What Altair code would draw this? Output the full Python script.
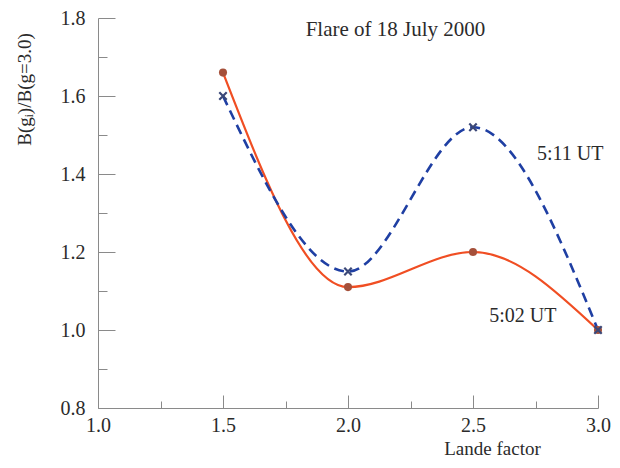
import altair as alt
import pandas as pd

# Data
lande = [1.5, 2.0, 2.5, 3.0]
ratio_502 = [1.66, 1.11, 1.20, 1.00]
ratio_511 = [1.60, 1.15, 1.52, 1.00]

x_major = [1.0, 1.5, 2.0, 2.5, 3.0]
x_minor = [1.25, 1.75, 2.25, 2.75]
y_major = [0.8, 1.0, 1.2, 1.4, 1.6, 1.8]
y_minor = [0.9, 1.1, 1.3, 1.5, 1.7]

ann_text = ["Flare of 18 July 2000", "5:11 UT", "5:02 UT"]
ann_x = [2.19, 2.889, 2.699]
ann_y = [1.768, 1.451, 1.036]
ann_size = [21, 20, 20]

FONT = "Liberation Serif"
AX = "#8a8a8a"
TXT = "#2b2b2b"
W, H = 500, 390

df = pd.DataFrame({
    "x": lande * 2,
    "y": ratio_502 + ratio_511,
    "series": ["5:02 UT"] * 4 + ["5:11 UT"] * 4,
})
ann = pd.DataFrame({"x": ann_x, "y": ann_y, "label": ann_text, "size": ann_size})

xs = alt.Scale(domain=[1.0, 3.0], nice=False, zero=False)
ys = alt.Scale(domain=[0.8, 1.8], nice=False, zero=False)

x_main = alt.X("x:Q", scale=xs, axis=alt.Axis(
    values=x_major, format=".1f", ticks=False, domain=True, domainColor=AX,
    grid=False, labelFont=FONT, labelFontSize=20, labelColor=TXT, labelPadding=7,
    labelFlush=False,
    title="Lande factor", titleFont=FONT, titleFontSize=19, titleFontWeight="normal",
    titleColor=TXT, titleX=394, titleY=40, titleAlign="center", titleBaseline="middle"))
y_main = alt.Y("y:Q", scale=ys, axis=alt.Axis(
    values=y_major, format=".1f", ticks=False, domain=True, domainColor=AX,
    grid=False, labelFont=FONT, labelFontSize=20, labelColor=TXT, labelPadding=13,
    labelFlush=False,
    title="B(gᵢ)/B(g=3.0)", titleFont=FONT, titleFontSize=19, titleFontWeight="normal",
    titleColor=TXT, titleX=-74, titleY=71, titleAngle=270, titleAlign="center",
    titleBaseline="middle"))

base = alt.Chart(df).encode(x=x_main, y=y_main)

red_line = base.transform_filter(alt.datum.series == "5:02 UT").mark_line(
    interpolate="monotone", color="#f04e23", strokeWidth=2.2)
blue_line = base.transform_filter(alt.datum.series == "5:11 UT").mark_line(
    interpolate="monotone", color="#1f3fa3", strokeWidth=2.6, strokeDash=[10, 6])
red_pts = base.transform_filter(alt.datum.series == "5:02 UT").mark_point(
    shape="circle", filled=True, color="#a5503a", size=65, opacity=1)
blue_pts = base.transform_filter(alt.datum.series == "5:11 UT").mark_point(
    shape="M-1,-1L1,1M-1,1L1,-1", filled=False, color="#3b4878", size=55,
    strokeWidth=2.2, opacity=1)
labels = alt.Chart(ann).mark_text(
    font=FONT, color=TXT, align="center", baseline="middle"
).encode(x=x_main, y=y_main, text="label:N",
         size=alt.Size("size:Q", scale=None, legend=None))

data_layer = alt.layer(red_line, blue_line, red_pts, blue_pts, labels)


def tick_layer(xv, yv, xsize, ysize):
    return alt.Chart(df).mark_point(opacity=0).encode(
        x=alt.X("x:Q", scale=xs, axis=alt.Axis(
            orient="top", offset=-H, values=xv, labels=False, domain=False,
            grid=False, ticks=True, tickSize=xsize, tickColor=AX, title=None)),
        y=alt.Y("y:Q", scale=ys, axis=alt.Axis(
            orient="right", offset=-W, values=yv, labels=False, domain=False,
            grid=False, ticks=True, tickSize=ysize, tickColor=AX, title=None)),
    )


chart = alt.layer(
    data_layer,
    tick_layer(x_major, y_major, 13, 17),
    tick_layer(x_minor, y_minor, 7, 9),
).resolve_axis(x="independent", y="independent").properties(
    width=W, height=H,
    autosize=alt.AutoSizeParams(type="none"),
    padding={"left": 90, "top": 10, "right": 14, "bottom": 52},
).configure_view(stroke=None)

chart.save("out.html", embed_options={"renderer": "svg", "actions": False})
